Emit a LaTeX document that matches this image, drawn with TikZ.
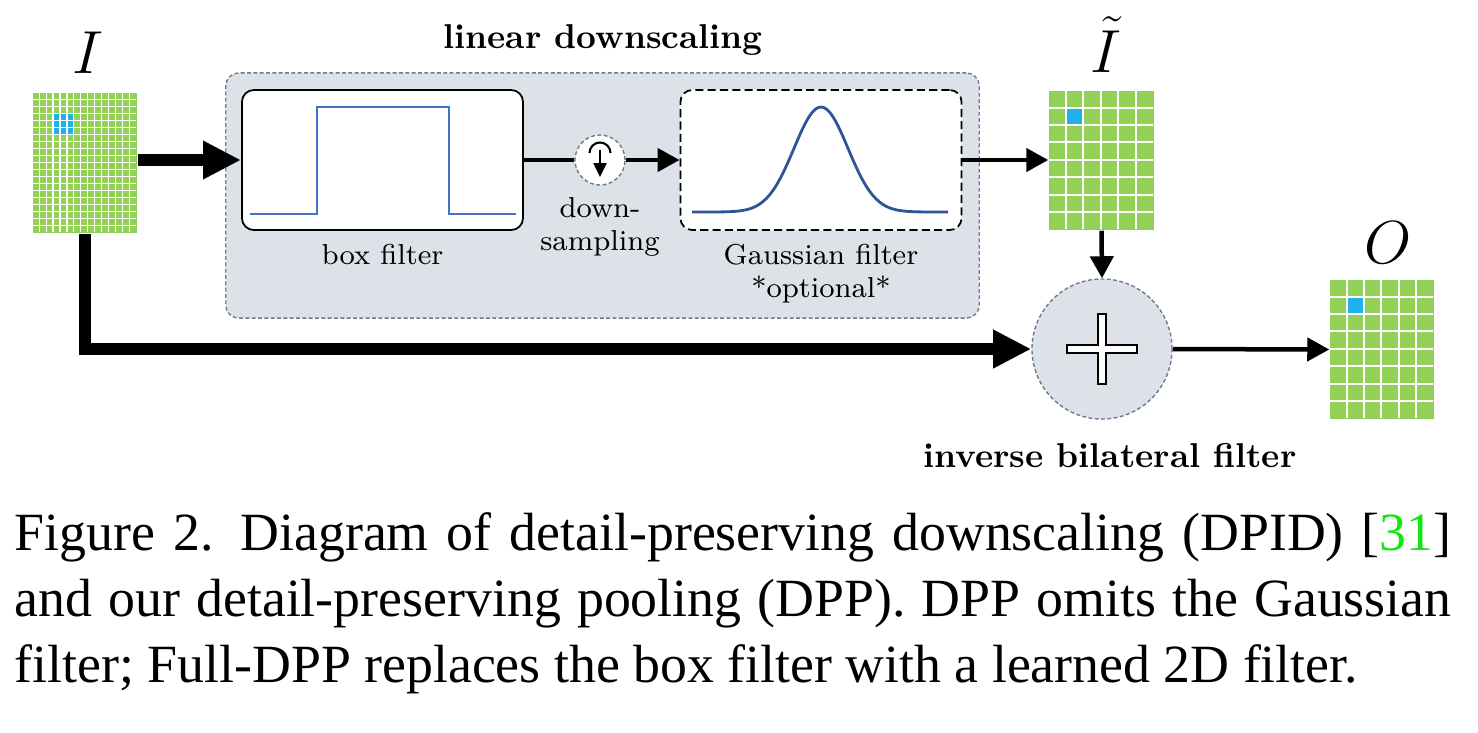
\documentclass[tikz,border=0pt]{standalone}
\usepackage{fontspec}
\newfontfamily\capfont{Liberation Serif}
\usetikzlibrary{arrows.meta}

\definecolor{pixgreen}{RGB}{146,208,88}
\definecolor{pixblue}{RGB}{30,178,235}
\definecolor{boxblue}{RGB}{68,114,196}
\definecolor{gaussblue}{RGB}{47,85,151}
\definecolor{panelgray}{RGB}{221,225,232}
\definecolor{dashgray}{RGB}{110,122,145}
\definecolor{citegreen}{RGB}{20,230,20}

\tikzset{
  thickarrow/.style={line width=0.12cm, -{Triangle[length=0.38cm,width=0.36cm]}},
  thinarrow/.style={line width=0.045cm, -{Triangle[length=0.22cm,width=0.23cm]}},
  img/.style={fill=pixgreen, inner sep=0pt},
  gridline/.style={white, line width=0.6pt},
  softdash/.style={draw=dashgray, line width=0.4pt, dash pattern=on 1.1pt off 0.7pt},
  filterbox/.style={draw, line width=0.5pt, fill=white, rounded corners=0.12cm,
    minimum width=2.81cm, minimum height=1.40cm, inner sep=0pt},
  lbl/.style={font=\fontsize{8.2}{9.4}\selectfont, inner sep=0pt, align=center},
  boldlbl/.style={font=\fontsize{9.8}{12}\selectfont\bfseries, inner sep=0pt, anchor=base},
  imglbl/.style={font=\fontsize{16.7}{18}\selectfont, inner sep=0pt, anchor=base},
  capline/.style={font=\capfont\fontsize{15.3}{18}\selectfont, inner sep=0pt, anchor=base west},
}

\begin{document}
\begin{tikzpicture}[x=0.01cm, y=-0.01cm]
  \useasboundingbox (0,0) rectangle (1478,732);

  % input image I
  \node[imglbl] (lblI) at (88,73) {$I$};
  \node[img, minimum width=1.04cm, minimum height=1.40cm] (imgI) at (85,163) {};
  \begin{scope}[shift={(imgI.north west)}, x=0.0693cm, y=-0.07cm]
    \fill[pixblue] (3,3) rectangle (6,6);
    \foreach \c in {1,...,14} \draw[gridline, line width=0.35pt] (\c,0) -- (\c,20);
    \foreach \r in {1,...,19} \draw[gridline, line width=0.35pt] (0,\r) -- (15,\r);
  \end{scope}

  % linear downscaling
  \node[softdash, fill=panelgray, rounded corners=0.13cm,
    minimum width=7.53cm, minimum height=2.45cm] (panel) at (602.5,195.5) {};
  \node[boldlbl] (lblpanel) at (603,48) {linear downscaling};

  \node[filterbox] (boxf) at (382.5,160) {};
  \begin{scope}[shift={(boxf.center)}]
    \draw[boxblue, line width=0.65pt] (-132.5,54) -- (-65.5,54) -- (-65.5,-53)
      -- (66.5,-53) -- (66.5,54) -- (133.5,54);
  \end{scope}
  \node[lbl, anchor=north] (lblbox) at (382.5,243) {box filter};

  \node[circle, softdash, fill=white, minimum size=0.5cm, inner sep=0pt] (down) at (600,160) {};
  \begin{scope}[shift={(down.center)}]
    \draw[line width=0.6pt] (-10.5,-7) arc[start angle=180, end angle=360, radius=10.5];
    \draw[line width=0.7pt, -{Triangle[length=0.14cm,width=0.13cm]}] (0,-10) -- (0,17);
  \end{scope}
  \node[lbl, anchor=north] (lbldown) at (600,197) {down-\\sampling};

  \node[filterbox, dash pattern=on 2.3pt off 1.2pt] (gauss) at (821,160) {};
  \begin{scope}[shift={(gauss.center)}]
    \draw[gaussblue, line width=0.8pt] plot[domain=-129:127, samples=90, smooth]
      (\x, {52-105*exp(-(\x/27)*(\x/27)/2)});
  \end{scope}
  \node[lbl, anchor=north] (lblgauss) at (821,243) {Gaussian filter\\*optional*};

  % downscaled image
  \node[imglbl] (lblIt) at (1106,72) {$\tilde{I}$};
  \node[img, minimum width=1.05cm, minimum height=1.39cm] (imgIt) at (1101.5,160.5) {};
  \begin{scope}[shift={(imgIt.north west)}, x=0.175cm, y=-0.17375cm]
    \fill[pixblue] (1,1) rectangle (2,2);
    \foreach \c in {1,...,5} \draw[gridline] (\c,0) -- (\c,8);
    \foreach \r in {1,...,7} \draw[gridline] (0,\r) -- (6,\r);
  \end{scope}

  % inverse bilateral filter
  \node[circle, softdash, fill=panelgray, minimum size=1.40cm, inner sep=0pt] (ibf) at (1102,349) {};
  \begin{scope}[shift={(ibf.center)}]
    \draw[fill=white, line width=0.6pt] (-3.8,-35) -- (3.8,-35) -- (3.8,-3.8) -- (35,-3.8)
      -- (35,3.8) -- (3.8,3.8) -- (3.8,35) -- (-3.8,35) -- (-3.8,3.8) -- (-35,3.8)
      -- (-35,-3.8) -- (-3.8,-3.8) -- cycle;
  \end{scope}
  \node[boldlbl] (lblibf) at (1110,467) {inverse bilateral filter};

  % output image O
  \node[imglbl] (lblO) at (1388,263) {$O$};
  \node[img, minimum width=1.04cm, minimum height=1.39cm] (imgO) at (1382,349.5) {};
  \begin{scope}[shift={(imgO.north west)}, x=0.1733cm, y=-0.17375cm]
    \fill[pixblue] (1,1) rectangle (2,2);
    \foreach \c in {1,...,5} \draw[gridline] (\c,0) -- (\c,8);
    \foreach \r in {1,...,7} \draw[gridline] (0,\r) -- (6,\r);
  \end{scope}

  % connectors
  \draw[thickarrow] (imgI.east |- boxf.west) -- (boxf.west);
  \draw[line width=0.045cm] (boxf.east) -- (down.west);
  \draw[thinarrow] (down.east) -- (gauss.west);
  \draw[thinarrow] (gauss.east) -- (imgIt.west |- gauss.east);
  \draw[thinarrow] (imgIt.south) -- (ibf.north);
  \draw[thinarrow] (ibf.east) -- (imgO.west);
  \draw[thickarrow] (imgI.south) |- (ibf.west);

  % caption
  \node[capline] (cap1) at (14,550) {\makebox[14.36cm][s]{Figure 2.\enspace Diagram of detail-preserving downscaling (DPID) [\textcolor{citegreen}{31}]}};
  \node[capline] (cap2) at (14,616) {\makebox[14.36cm][s]{and our detail-preserving pooling (DPP). DPP omits the Gaussian}};
  \node[capline] (cap3) at (14,682) {filter; Full-DPP replaces the box filter with a learned 2D filter.};
\end{tikzpicture}
\end{document}
